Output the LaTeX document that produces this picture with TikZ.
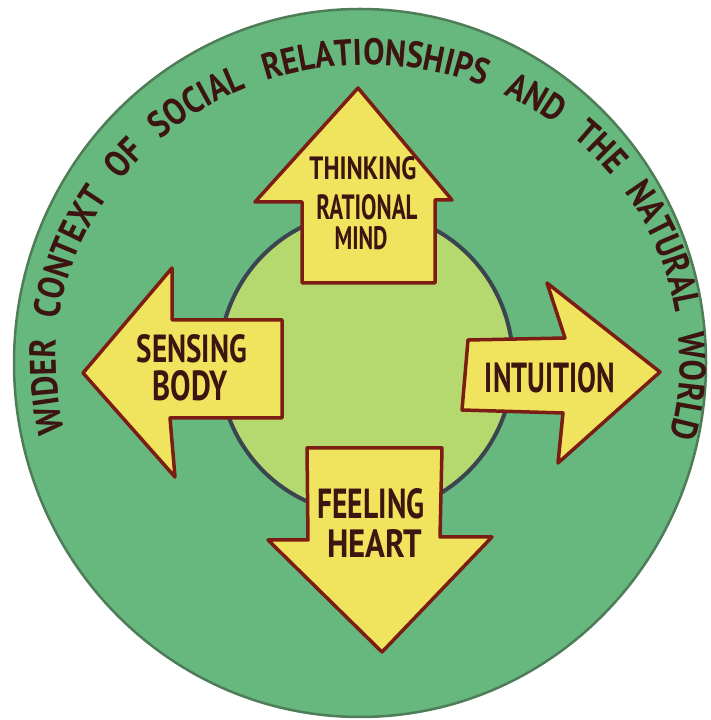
\documentclass[tikz,border=0pt]{standalone}
\usepackage{fontspec}
\usepackage{graphicx}
\setmainfont{PT Sans}
\newfontfamily\hand[FakeStretch=0.72]{PT Sans}
\newfontfamily\ringfont[FakeStretch=0.86]{PT Sans}
\usetikzlibrary{decorations.text}
\definecolor{outerg}{HTML}{66B87E}
\definecolor{outerb}{HTML}{4E7D57}
\definecolor{innerg}{HTML}{B5D96E}
\definecolor{innerb}{HTML}{3B4550}
\definecolor{arrowy}{HTML}{F0E35E}
\definecolor{arrowb}{HTML}{7B1D12}
\definecolor{inkc}{HTML}{3C1410}
\newcommand\fitlab[3]{\resizebox{#1pt}{#2pt}{\bfseries #3}}
\begin{document}
\begin{tikzpicture}[x=1pt,y=1pt,
  arrowshape/.style={fill=arrowy, draw=arrowb, line width=3.5pt, line join=round},
  lab/.style={text=inkc, font=\hand\bfseries, inner sep=0pt, anchor=center},
]
\useasboundingbox (0,0) rectangle (710,720);
\fill[white] (0,0) rectangle (710,720);
% outer and inner discs
\draw[fill=outerg, draw=outerb, line width=2.5pt] (360,357) ellipse [x radius=346pt, y radius=354pt];
\draw[fill=innerg, draw=innerb, line width=4pt] (366,357) ellipse [x radius=147pt, y radius=151pt];
% up arrow
\draw[arrowshape] (358,632) -- (452,520) -- (435,520) -- (435,437) -- (302,437) -- (302,518) -- (255,518) -- cycle;
% down arrow
\draw[arrowshape] (307,272) -- (442,272) -- (440,183) -- (492,183) -- (382,68) -- (268,180) -- (308,180) -- cycle;
% left arrow
\draw[arrowshape] (83,347) -- (172,452) -- (172,400) -- (282,400) -- (282,302) -- (170,302) -- (175,243) -- cycle;
% right arrow
\draw[arrowshape] (468,380) -- (565,382) -- (547,437) -- (660,348) -- (558,257) -- (563,307) -- (462,310) -- cycle;
% labels
\node[lab] (think) at (363,552) {\fitlab{107}{23}{THINKING}};
\node[lab] (ratio) at (367,513) {\fitlab{101}{25}{RATIONAL}};
\node[lab] (mind)  at (361,482) {\fitlab{53}{23}{MIND}};
\node[lab] (sens)  at (192,371) {\fitlab{110}{28}{SENSING}};
\node[lab] (body)  at (190,334) {\fitlab{75}{30}{BODY}};
\node[lab] (intu)  at (550,342) {\fitlab{130}{30}{INTUITION}};
\node[lab] (feel)  at (371,216) {\fitlab{107}{30}{FEELING}};
\node[lab] (heart) at (375,176) {\fitlab{95}{28}{HEART}};
% curved outer text
\path[decorate, decoration={text along path, text align={fit to path stretching spaces},
  text color=inkc,
  text={|\ringfont\bfseries\fontsize{37}{40}\selectfont|WIDER CONTEXT OF SOCIAL RELATIONSHIPS AND THE NATURAL WORLD}}]
  (368,360) ++(194:312pt and 295pt) arc[start angle=194, end angle=-15, x radius=312pt, y radius=295pt];
\end{tikzpicture}
\end{document}
